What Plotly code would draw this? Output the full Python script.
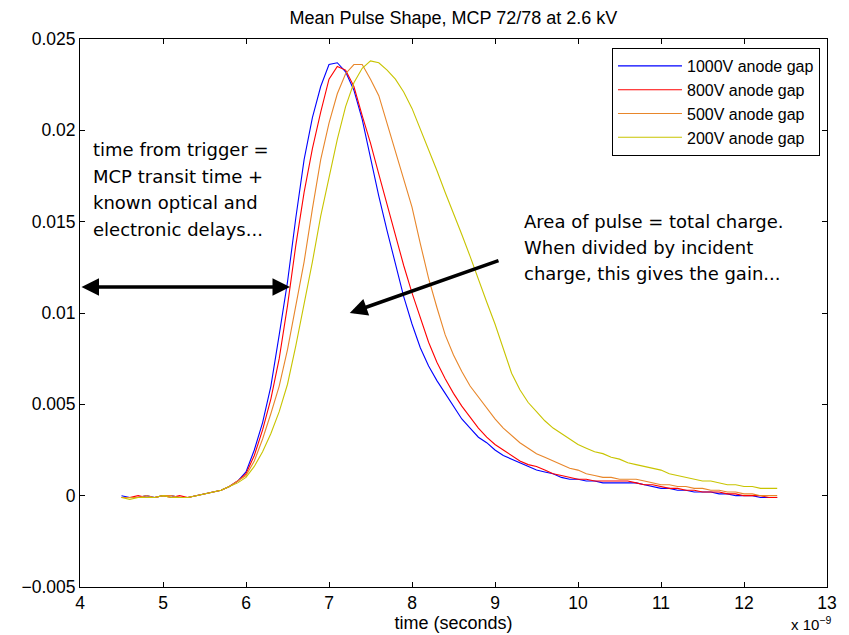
import plotly.graph_objects as go

# time axis in units of 1e-9 s
t_ns = [4.5, 4.6, 4.7, 4.8, 4.9, 5.0, 5.1, 5.2, 5.3, 5.4, 5.5, 5.6, 5.7, 5.8, 5.9,
        6.0, 6.1, 6.2, 6.3, 6.4, 6.5, 6.6, 6.7, 6.8, 6.9, 7.0, 7.1, 7.2, 7.3, 7.4,
        7.5, 7.6, 7.7, 7.8, 7.9, 8.0, 8.1, 8.2, 8.3, 8.4, 8.5, 8.6, 8.7, 8.8, 8.9,
        9.0, 9.1, 9.2, 9.3, 9.4, 9.5, 9.6, 9.7, 9.8, 9.9, 10.0, 10.1, 10.2, 10.3, 10.4,
        10.5, 10.6, 10.7, 10.8, 10.9, 11.0, 11.1, 11.2, 11.3, 11.4, 11.5, 11.6, 11.7, 11.8, 11.9,
        12.0, 12.1, 12.2, 12.3, 12.4]

v1000 = [0.0000, -0.0001, -0.0001, 0.0000, -0.0001, 0.0000, 0.0000, -0.0001, -0.0001, 0.0000,
         0.0001, 0.0002, 0.0003, 0.0005, 0.0008,
         0.0013, 0.0025, 0.0040, 0.0060, 0.0088, 0.0117, 0.0152, 0.0184, 0.0207, 0.0224,
         0.0236, 0.0237, 0.0232, 0.0222, 0.0206, 0.0184, 0.0164, 0.0145, 0.0127, 0.0109,
         0.0094, 0.0081, 0.0071, 0.0063, 0.0056, 0.0049, 0.0042, 0.0037, 0.0032, 0.0029,
         0.0025, 0.0022, 0.0020, 0.0018, 0.0016, 0.0014, 0.0013, 0.0012, 0.0010, 0.0009,
         0.0009, 0.0008, 0.0008, 0.0007, 0.0007, 0.0007, 0.0007, 0.0007, 0.0006, 0.0005,
         0.0004, 0.0004, 0.0003, 0.0003, 0.0002, 0.0002, 0.0002, 0.0001, 0.0001, 0.0000,
         0.0000, 0.0000, -0.0001, -0.0001, -0.0001]

v800 = [-0.0001, -0.0001, 0.0000, -0.0001, -0.0001, 0.0000, -0.0001, 0.0000, -0.0001, 0.0000,
        0.0001, 0.0002, 0.0003, 0.0005, 0.0008,
        0.0012, 0.0022, 0.0036, 0.0053, 0.0075, 0.0104, 0.0137, 0.0166, 0.0190, 0.0210,
        0.0228, 0.0235, 0.0233, 0.0224, 0.0208, 0.0193, 0.0176, 0.0159, 0.0143, 0.0126,
        0.0111, 0.0097, 0.0084, 0.0073, 0.0064, 0.0056, 0.0049, 0.0043, 0.0037, 0.0032,
        0.0028, 0.0025, 0.0022, 0.0019, 0.0017, 0.0016, 0.0014, 0.0012, 0.0011, 0.0010,
        0.0009, 0.0009, 0.0008, 0.0008, 0.0008, 0.0008, 0.0008, 0.0007, 0.0006, 0.0006,
        0.0005, 0.0004, 0.0004, 0.0003, 0.0003, 0.0002, 0.0002, 0.0002, 0.0001, 0.0001,
        0.0000, 0.0000, 0.0000, -0.0001, -0.0001]

v500 = [-0.0001, -0.0001, -0.0001, 0.0000, -0.0001, 0.0000, 0.0000, -0.0001, -0.0001, 0.0000,
        0.0001, 0.0002, 0.0003, 0.0005, 0.0008,
        0.0011, 0.0019, 0.0031, 0.0045, 0.0060, 0.0080, 0.0103, 0.0128, 0.0157, 0.0184,
        0.0204, 0.0220, 0.0231, 0.0236, 0.0236, 0.0228, 0.0219, 0.0204, 0.0189, 0.0174,
        0.0158, 0.0138, 0.0119, 0.0103, 0.0088, 0.0077, 0.0068, 0.0060, 0.0054, 0.0048,
        0.0042, 0.0037, 0.0033, 0.0029, 0.0026, 0.0023, 0.0021, 0.0019, 0.0017, 0.0015,
        0.0014, 0.0012, 0.0011, 0.0010, 0.0010, 0.0009, 0.0009, 0.0009, 0.0008, 0.0007,
        0.0006, 0.0006, 0.0005, 0.0005, 0.0004, 0.0004, 0.0003, 0.0003, 0.0002, 0.0002,
        0.0001, 0.0001, 0.0000, 0.0000, 0.0000]

v200 = [-0.0001, -0.0002, -0.0001, -0.0001, -0.0001, 0.0000, -0.0001, -0.0001, -0.0001, 0.0000,
        0.0001, 0.0002, 0.0003, 0.0005, 0.0007,
        0.0010, 0.0016, 0.0024, 0.0034, 0.0046, 0.0061, 0.0082, 0.0104, 0.0128, 0.0153,
        0.0174, 0.0195, 0.0213, 0.0226, 0.0234, 0.0238, 0.0237, 0.0233, 0.0228, 0.0221,
        0.0212, 0.0201, 0.0190, 0.0178, 0.0166, 0.0155, 0.0143, 0.0131, 0.0118, 0.0106,
        0.0094, 0.0080, 0.0067, 0.0058, 0.0051, 0.0046, 0.0041, 0.0037, 0.0034, 0.0031,
        0.0028, 0.0026, 0.0024, 0.0023, 0.0021, 0.0020, 0.0018, 0.0017, 0.0016, 0.0015,
        0.0014, 0.0012, 0.0011, 0.0010, 0.0009, 0.0008, 0.0008, 0.0007, 0.0006, 0.0006,
        0.0005, 0.0005, 0.0004, 0.0004, 0.0004]

series_names = ["1000V anode gap", "800V anode gap", "500V anode gap", "200V anode gap"]
series_values = [v1000, v800, v500, v200]
series_colors = ["#0000FF", "#FF0000", "#E8862A", "#C8C400"]

x_ticks = [4, 5, 6, 7, 8, 9, 10, 11, 12, 13]
y_ticks = [-0.005, 0, 0.005, 0.01, 0.015, 0.02, 0.025]
y_ticklabels = ["\u22120.005", "0", "0.005", "0.01", "0.015", "0.02", "0.025"]

left_note = ["time from trigger =", "MCP transit time +", "known optical and", "electronic delays..."]
left_note_y = [0.01893, 0.01745, 0.01603, 0.01455]
right_note = ["Area of pulse = total charge.", "When divided by incident", "charge, this gives the gain..."]
right_note_y = [0.01499, 0.01356, 0.01214]

FONT = "Liberation Sans, Arial, Helvetica"

fig = go.Figure()
for name, vals, col in zip(series_names, series_values, series_colors):
    fig.add_trace(go.Scatter(x=t_ns, y=vals, mode="lines", name=name,
                             line=dict(color=col, width=1.1)))

axis_common = dict(showgrid=False, zeroline=False, showline=True, linecolor="black",
                   linewidth=1, mirror="ticks", ticks="inside", ticklen=5,
                   tickcolor="black", tickwidth=1, automargin=False,
                   tickfont=dict(family=FONT, size=17.5, color="black"))

fig.update_layout(
    width=849, height=635,
    margin=dict(l=80, r=22, t=39, b=48, autoexpand=False),
    paper_bgcolor="white", plot_bgcolor="white",
    title=dict(text="Mean Pulse Shape, MCP 72/78 at 2.6 kV", x=0.534, xanchor="center",
               y=0.972, yanchor="middle", automargin=False,
               font=dict(family=FONT, size=18, color="black")),
    xaxis=dict(range=[4, 13], tickvals=x_ticks, ticktext=[str(v) for v in x_ticks],
               title=dict(text="time (seconds)", standoff=0,
                          font=dict(family=FONT, size=18, color="black")),
               **axis_common),
    yaxis=dict(range=[-0.005, 0.025], tickvals=y_ticks, ticktext=y_ticklabels, **axis_common),
    legend=dict(
        x=0.9906, y=0.9836, xanchor="right", yanchor="top",
        bgcolor="white", bordercolor="black", borderwidth=1,
        font=dict(family=FONT, size=16, color="black"),
        tracegroupgap=0, itemwidth=64),
    showlegend=True,
)

ann_font = dict(family="DejaVu Sans", size=18, color="black")
for line, yv in zip(left_note, left_note_y):
    fig.add_annotation(xref="x", yref="y", x=4.13, y=yv, xanchor="left", yanchor="middle",
                       align="left", showarrow=False, font=ann_font, text=line)
for line, yv in zip(right_note, right_note_y):
    fig.add_annotation(xref="x", yref="y", x=9.33, y=yv, xanchor="left", yanchor="middle",
                       align="left", showarrow=False, font=ann_font, text=line)

# double-headed arrow
fig.add_annotation(xref="x", yref="y", axref="x", ayref="y", x=6.53, y=0.01143,
                   ax=4.0, ay=0.01143, text="", showarrow=True, arrowhead=2,
                   arrowside="end+start", arrowwidth=3.5, arrowsize=1, arrowcolor="black")
# single arrow
fig.add_annotation(xref="x", yref="y", axref="x", ayref="y", x=7.25, y=0.0100,
                   ax=9.06, ay=0.0129, text="", showarrow=True, arrowhead=2,
                   arrowwidth=3.5, arrowsize=1, arrowcolor="black")
fig.add_annotation(xref="paper", yref="paper", x=1.008, y=-0.0876, xanchor="right", yanchor="bottom",
                   showarrow=False, text="x 10<sup>\u22129</sup>",
                   font=dict(family=FONT, size=15, color="black"))

fig.write_html("out.html")
